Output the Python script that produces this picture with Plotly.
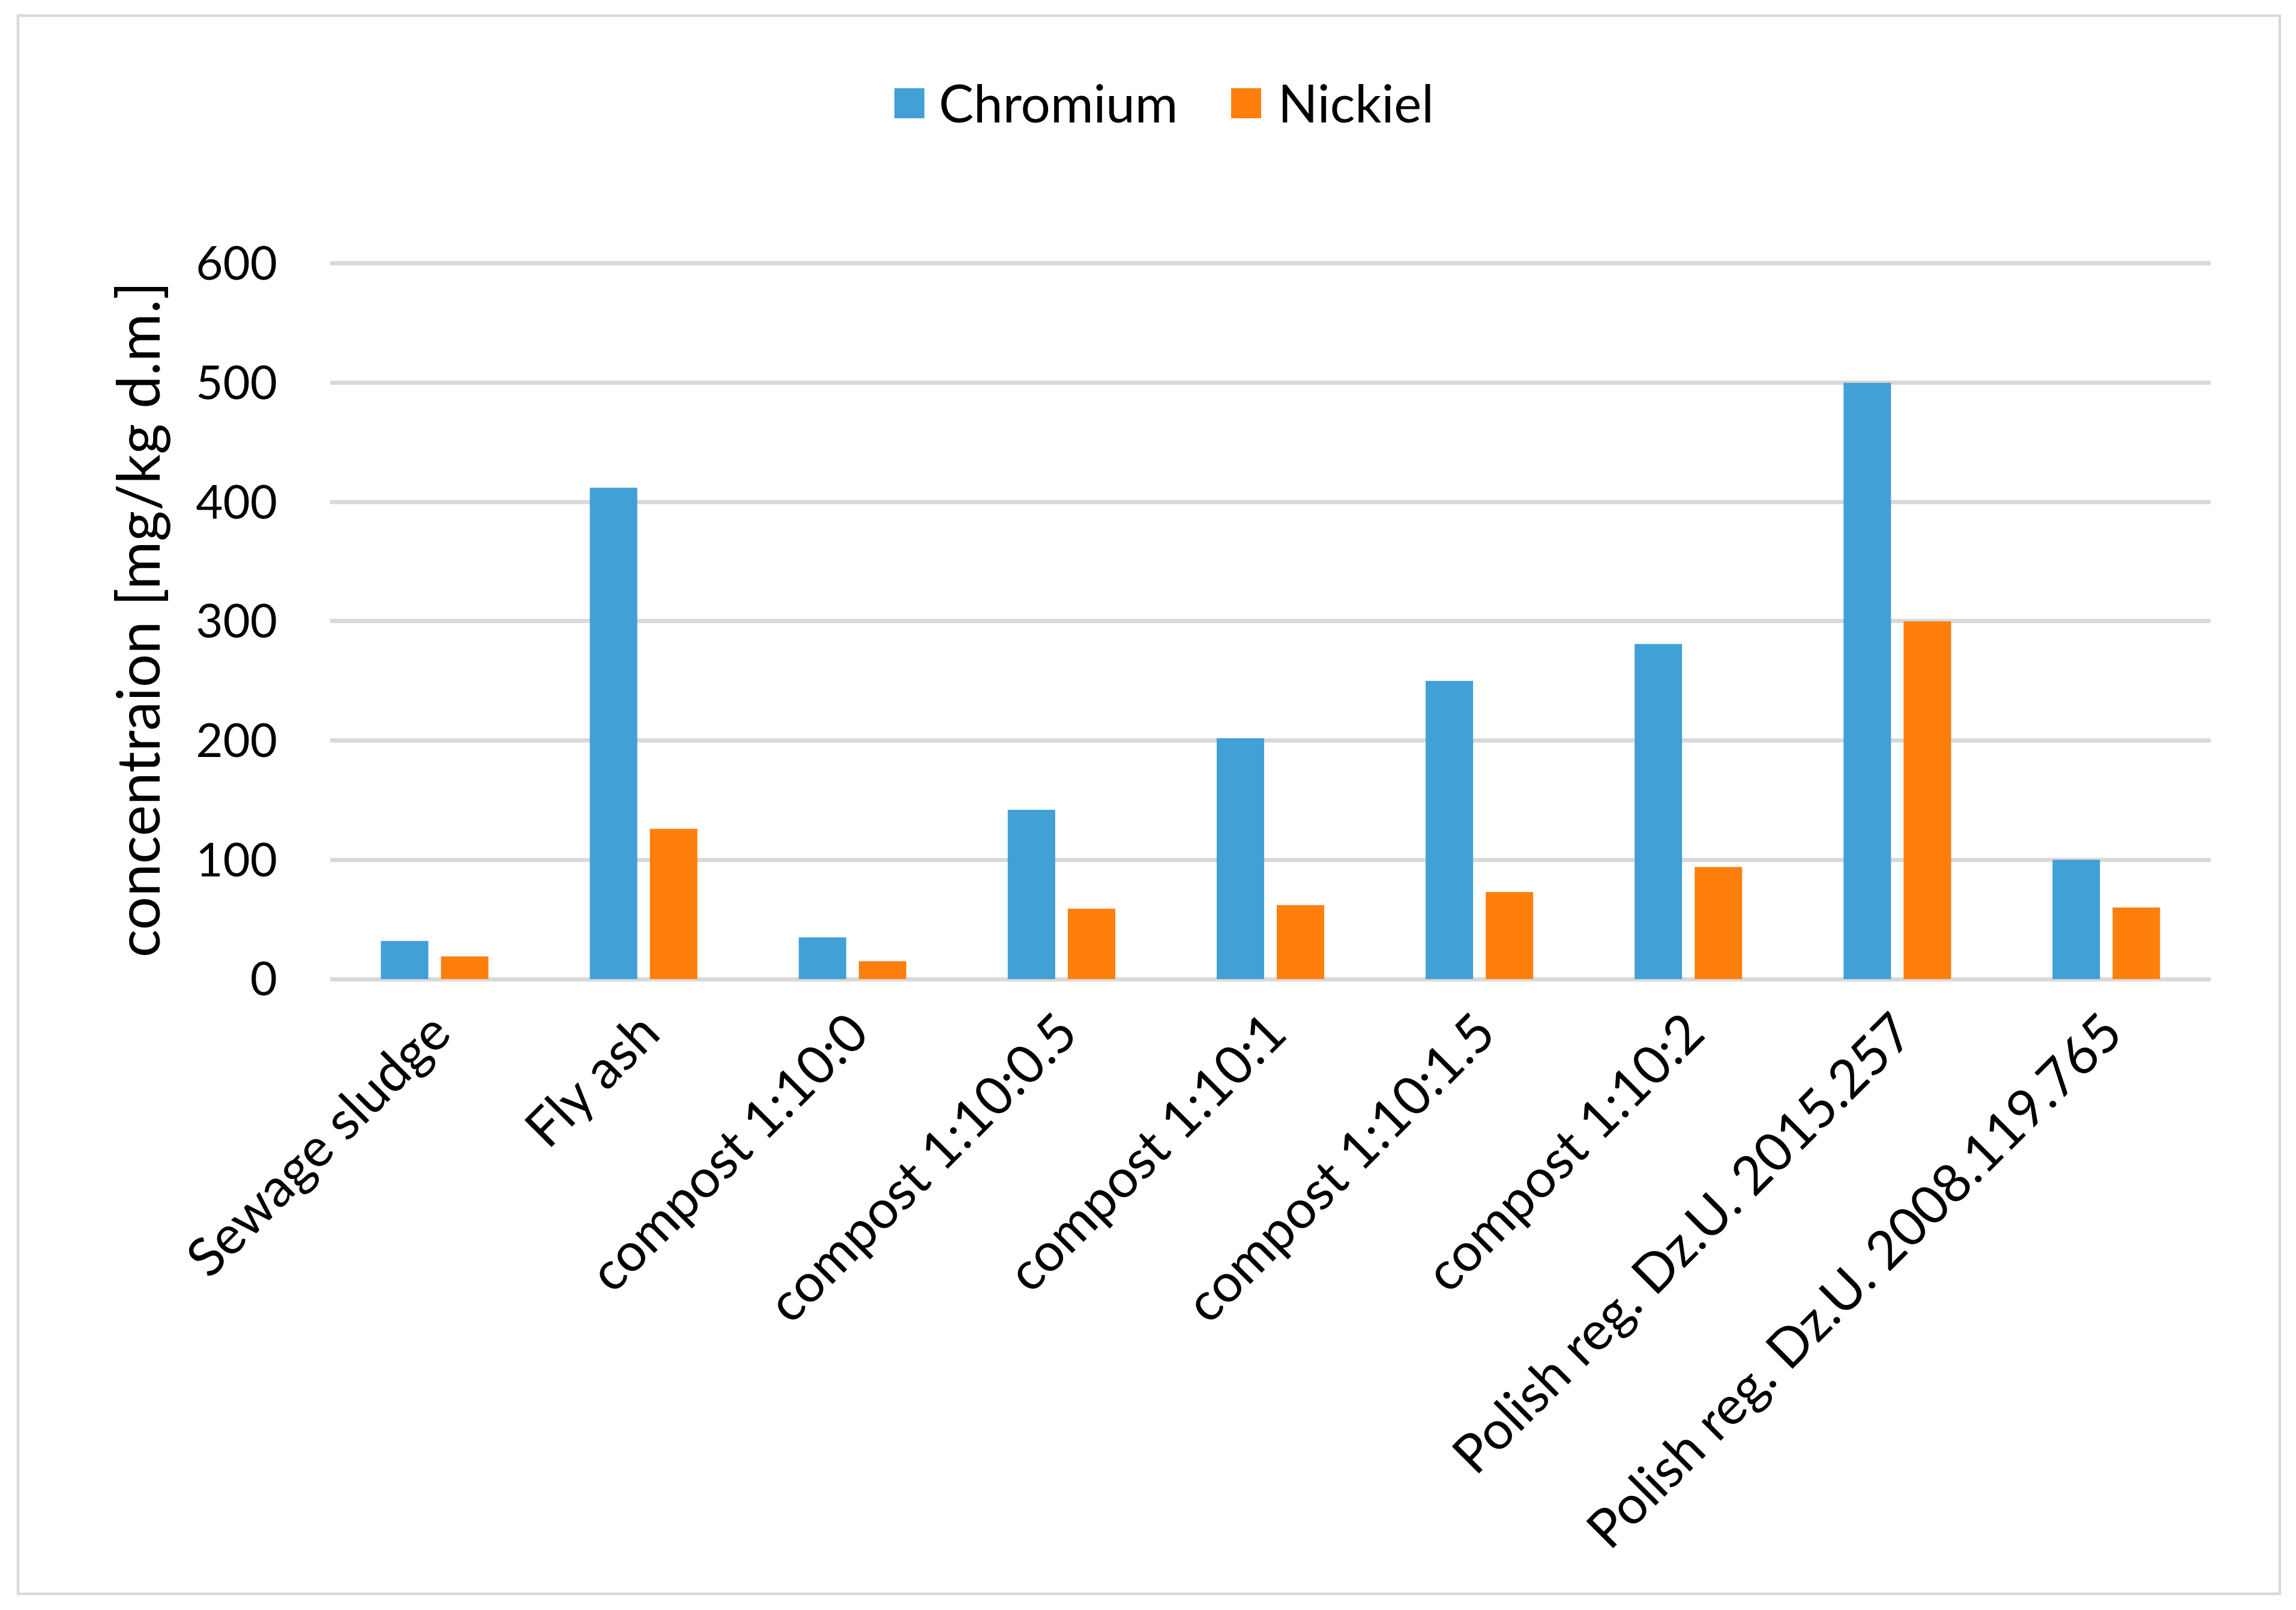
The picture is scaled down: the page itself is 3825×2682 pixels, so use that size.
import plotly.graph_objects as go

categories = ["Sewage sludge", "Fly ash", "compost 1:10:0", "compost 1:10:0.5",
              "compost 1:10:1", "compost 1:10:1.5", "compost 1:10:2",
              "Polish reg. Dz.U. 2015.257", "Polish reg. Dz.U. 2008.119.765"]
chromium = [32, 412, 35, 142, 202, 250, 281, 500, 100]
nickiel = [19, 126, 15, 59, 62, 73, 94, 300, 60]
series_names = ["Chromium", "Nickiel"]
series_colors = ["#41A0D6", "#FE7F0C"]
y_ticks = [0, 100, 200, 300, 400, 500, 600]
y_title = "concentraion [mg/kg d.m.]"

FONT = "Lato"
OFF = 8  # page body margin offset
W, H = 3825, 2682
L, R, T, B = 550 - OFF, 142 + OFF, 433 - OFF, 1051 + OFF
pw = W - L - R
ph = H - T - B

fig = go.Figure()
for name, vals, col in zip(series_names, [chromium, nickiel], series_colors):
    fig.add_trace(go.Bar(x=categories, y=vals, name=name, marker_color=col,
                         marker_line_width=0, showlegend=False))

def px_to_paper_x(px):
    return (px - OFF - L) / pw

def px_to_paper_y(py):
    return (H - B - (py - OFF)) / ph

shapes = []
annotations = []
# custom legend (large square keys as in reference)
legend_pos = [(1490, 1568), (2051, 2133)]
for (sq_x, tx), name, col in zip(legend_pos, series_names, series_colors):
    shapes.append(dict(type="rect", xref="paper", yref="paper",
                       x0=px_to_paper_x(sq_x), x1=px_to_paper_x(sq_x + 50),
                       y0=px_to_paper_y(197), y1=px_to_paper_y(147),
                       fillcolor=col, line_width=0))
    annotations.append(dict(text=name, xref="paper", yref="paper",
                            x=px_to_paper_x(tx - 6), y=px_to_paper_y(170),
                            xanchor="left", yanchor="middle", showarrow=False,
                            font=dict(family=FONT, size=87, color="#000000")))
# outer chart border
shapes.append(dict(type="rect", xref="paper", yref="paper",
                   x0=px_to_paper_x(30), x1=px_to_paper_x(3798),
                   y0=px_to_paper_y(2655), y1=px_to_paper_y(26),
                   line=dict(color="#D9D9D9", width=4.5), fillcolor="rgba(0,0,0,0)",
                   layer="below"))

fig.update_layout(
    width=W, height=H, autosize=False,
    margin=dict(l=L, r=R, t=T, b=B, pad=0),
    paper_bgcolor="#FFFFFF", plot_bgcolor="#FFFFFF",
    barmode="group", bargap=0.425, bargroupgap=0.21,
    font=dict(family=FONT, size=84, color="#000000"),
    shapes=shapes, annotations=annotations,
    showlegend=False,
)
fig.update_xaxes(type="category", showgrid=False, showline=False, zeroline=False,
                 ticks="", tickangle=-45, ticklabelstandoff=18,
                 tickfont=dict(family=FONT, size=89, color="#000000"))
fig.update_yaxes(range=[0, 603], tickvals=y_ticks, showgrid=True,
                 gridcolor="#D9D9D9", gridwidth=6.5, zeroline=True,
                 zerolinecolor="#D9D9D9", zerolinewidth=6.5, showline=False,
                 ticks="", ticklabelstandoff=87,
                 tickfont=dict(family=FONT, size=78, color="#000000"),
                 title=dict(text=y_title, standoff=26,
                            font=dict(family=FONT, size=98, color="#000000")))

fig.write_html("out.html")
